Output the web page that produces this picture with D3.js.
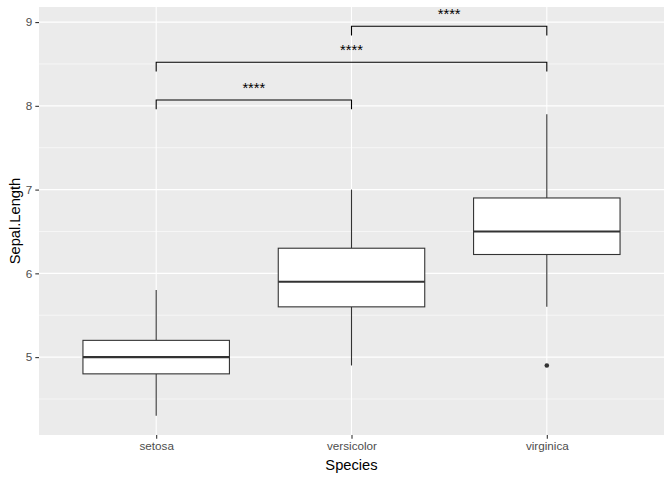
<!DOCTYPE html>
<html>
<head>
<meta charset="utf-8">
<script src="https://cdn.jsdelivr.net/npm/d3@7"></script>
<style>
  body { margin: 0; background: #fff; }
  text { font-family: "Liberation Sans", Arial, sans-serif; }
</style>
</head>
<body>
<svg id="chart" width="672" height="480"></svg>
<script>
// iris Sepal.Length summary per species
const species = ["setosa", "versicolor", "virginica"];
const whiskerLow = [4.3, 4.9, 5.6];
const q1 = [4.8, 5.6, 6.225];
const medians = [5.0, 5.9, 6.5];
const q3 = [5.2, 6.3, 6.9];
const whiskerHigh = [5.8, 7.0, 7.9];
const outliers = [[], [], [4.9]];

// pairwise comparisons (brackets)
const compFrom = ["setosa", "setosa", "versicolor"];
const compTo = ["versicolor", "virginica", "virginica"];
const compY = [8.07, 8.52, 8.95];
const compLabel = ["****", "****", "****"];

const yTicks = [5, 6, 7, 8, 9];
const yMinor = [4.5, 5.5, 6.5, 7.5, 8.5];

const svg = d3.select("#chart");
const margin = { top: 7, right: 8, bottom: 45, left: 39 };
const W = 672, H = 480;
const width = W - margin.left - margin.right;
const height = H - margin.top - margin.bottom;

const g = svg.append("g")
  .attr("transform", `translate(${margin.left},${margin.top})`);

// discrete axis with ggplot's 0.6 expansion
const x = d3.scaleLinear().domain([0.4, species.length + 0.6]).range([0, width]);
const xPos = s => x(species.indexOf(s) + 1);
const y = d3.scaleLinear().domain([4.07, 9.18]).range([height, 0]);

// panel background
g.append("rect")
  .attr("width", width).attr("height", height)
  .attr("fill", "#EBEBEB");

// grid
g.selectAll(".minor").data(yMinor).enter().append("line")
  .attr("x1", 0).attr("x2", width)
  .attr("y1", d => y(d)).attr("y2", d => y(d))
  .attr("stroke", "#fff").attr("stroke-width", 0.55);
g.selectAll(".major").data(yTicks).enter().append("line")
  .attr("x1", 0).attr("x2", width)
  .attr("y1", d => y(d)).attr("y2", d => y(d))
  .attr("stroke", "#fff").attr("stroke-width", 1.1);
g.selectAll(".vgrid").data(species).enter().append("line")
  .attr("x1", d => xPos(d)).attr("x2", d => xPos(d))
  .attr("y1", 0).attr("y2", height)
  .attr("stroke", "#fff").attr("stroke-width", 1.1);

// axes
const yAxis = g.append("g")
  .call(d3.axisLeft(y).tickValues(yTicks).tickSize(3.7).tickPadding(3).tickFormat(d3.format("d")));
const xAxis = g.append("g")
  .attr("transform", `translate(0,${height})`)
  .call(d3.axisBottom(x).tickValues(species.map((s, i) => i + 1)).tickSize(3.7).tickPadding(3)
    .tickFormat(d => species[d - 1]));
[yAxis, xAxis].forEach(a => {
  a.select(".domain").remove();
  a.selectAll(".tick line").attr("stroke", "#333333").attr("stroke-width", 1.1);
  a.selectAll(".tick text").attr("fill", "#4D4D4D").style("font-size", "11.7px");
});

// boxes
const boxW = x(1.75) - x(1);
const boxes = g.selectAll(".box").data(species).enter().append("g");
boxes.append("line")
  .attr("x1", d => xPos(d)).attr("x2", d => xPos(d))
  .attr("y1", (d, i) => y(q3[i])).attr("y2", (d, i) => y(whiskerHigh[i]))
  .attr("stroke", "#333333").attr("stroke-width", 1.1);
boxes.append("line")
  .attr("x1", d => xPos(d)).attr("x2", d => xPos(d))
  .attr("y1", (d, i) => y(q1[i])).attr("y2", (d, i) => y(whiskerLow[i]))
  .attr("stroke", "#333333").attr("stroke-width", 1.1);
boxes.append("rect")
  .attr("x", d => xPos(d) - boxW / 2)
  .attr("width", boxW)
  .attr("y", (d, i) => y(q3[i]))
  .attr("height", (d, i) => y(q1[i]) - y(q3[i]))
  .attr("fill", "#fff").attr("stroke", "#333333").attr("stroke-width", 1.1);
boxes.append("line")
  .attr("x1", d => xPos(d) - boxW / 2).attr("x2", d => xPos(d) + boxW / 2)
  .attr("y1", (d, i) => y(medians[i])).attr("y2", (d, i) => y(medians[i]))
  .attr("stroke", "#333333").attr("stroke-width", 2.1);

// outliers
species.forEach((s, i) => {
  g.selectAll(null).data(outliers[i]).enter().append("circle")
    .attr("cx", xPos(s)).attr("cy", d => y(d)).attr("r", 2.3)
    .attr("fill", "#333333");
});

// comparison brackets
compY.forEach((v, i) => {
  const x1 = xPos(compFrom[i]), x2 = xPos(compTo[i]);
  const yy = y(v), tick = y(v - 0.11);
  g.append("path")
    .attr("d", `M${x1},${tick}V${yy}H${x2}V${tick}`)
    .attr("fill", "none").attr("stroke", "#000").attr("stroke-width", 1.1);
  g.append("text")
    .attr("x", (x1 + x2) / 2).attr("y", yy - 7)
    .attr("text-anchor", "middle")
    .style("font-size", "14.7px").attr("fill", "#000")
    .text(compLabel[i]);
});

// axis titles
svg.append("text")
  .attr("x", margin.left + width / 2).attr("y", 470)
  .attr("text-anchor", "middle").style("font-size", "14.7px")
  .text("Species");
svg.append("text")
  .attr("transform", `translate(20,${margin.top + height / 2}) rotate(-90)`)
  .attr("text-anchor", "middle").style("font-size", "14.7px")
  .text("Sepal.Length");
</script>
</body>
</html>
